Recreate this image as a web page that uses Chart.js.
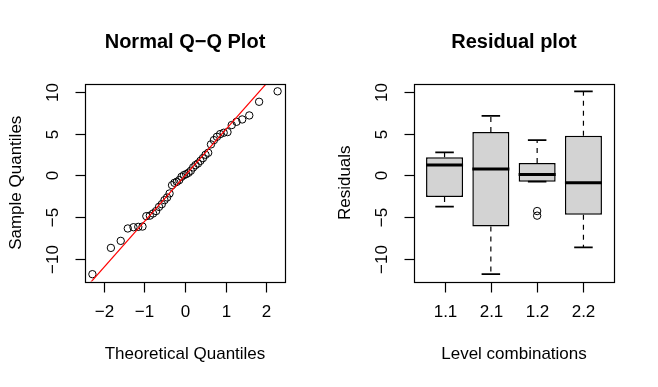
<!DOCTYPE html>
<html>
<head>
<meta charset="utf-8">
<script src="https://cdn.jsdelivr.net/npm/chart.js@4/dist/chart.umd.min.js"></script>
<style>
  body { margin: 0; background: #ffffff; }
  #wrap { display: flex; width: 658px; height: 387px; }
  canvas { display: block; }
</style>
</head>
<body>
<div id="wrap">
  <canvas id="qq" width="329" height="387"></canvas>
  <canvas id="resid" width="329" height="387"></canvas>
</div>
<script>
// Normal Q-Q plot: theoretical quantiles vs sorted residuals
const theoretical = [-2.279, -1.824, -1.582, -1.408, -1.268, -1.150, -1.046, -0.952, -0.866, -0.786, -0.711,
    -0.639, -0.571, -0.505, -0.441, -0.380, -0.319, -0.259, -0.201, -0.143, -0.086, -0.028,
    0.028, 0.086, 0.143, 0.201, 0.259, 0.319, 0.380, 0.441, 0.505, 0.571, 0.639,
    0.711, 0.786, 0.866, 0.952, 1.046, 1.150, 1.268, 1.408, 1.582, 1.824, 2.279];
const sample = [-11.79, -8.65, -7.81, -6.33, -6.18, -6.14, -6.10, -4.86, -4.80, -4.54, -4.25,
    -3.75, -3.43, -2.95, -2.63, -2.15, -1.16, -0.88, -0.76, -0.56, -0.16, 0.04,
    0.16, 0.32, 0.56, 0.96, 1.24, 1.43, 1.75, 2.07, 2.47, 2.71, 3.71,
    4.22, 4.62, 4.94, 5.10, 5.18, 6.02, 6.41, 6.69, 7.17, 8.80, 10.05];
// qqline end points (clipped by the plot box)
const qqLineX = [-2.6, 2.6];
const qqLineY = [-14.29, 14.25];

// Residual boxplot per level combination
const groups = ["1.1", "2.1", "1.2", "2.2"];
const whiskerLow = [-3.71, -11.79, -0.74, -8.60];
const q1 = [-2.56, -6.10, -0.74, -4.70];
const median = [1.25, 0.77, 0.13, -0.86];
const q3 = [2.17, 5.18, 1.48, 4.74];
const whiskerHigh = [2.76, 7.12, 4.23, 10.05];
const outlierGroup = [3, 3];
const outlierValue = [-4.25, -4.80];

// tick labels
const qqXTicks = [-2, -1, 0, 1, 2];
const yTicks = [-10, -5, 0, 5, 10];

const FONT = '"Liberation Sans", Arial, sans-serif';
const minus = v => (v < 0 ? "\u2212" + Math.abs(v) : String(v));

// R-style ylim / xlim: data range stretched by 4% on each side
function rRange(vals) {
    const lo = Math.min(...vals), hi = Math.max(...vals);
    const pad = (hi - lo) * 0.04;
    return [lo - pad, hi + pad];
}
const yLim = rRange(sample);
const qqXLim = rRange(theoretical);

// draws box, ticks, tick labels and titles the way base R does
function rAxes(cfg) {
    return {
        id: "rAxes",
        afterDraw(chart) {
            const { ctx, chartArea: a, scales: { x, y } } = chart;
            ctx.save();
            ctx.strokeStyle = "#000";
            ctx.fillStyle = "#000";
            ctx.lineWidth = 1.2;
            ctx.strokeRect(Math.round(a.left) + 0.5, Math.round(a.top) + 0.5,
                Math.round(a.right - a.left), Math.round(a.bottom - a.top));

            ctx.font = "17px " + FONT;
            ctx.textAlign = "center";
            ctx.textBaseline = "middle";
            const bottom = Math.round(a.bottom) + 0.5;
            cfg.xTicks.forEach((v, i) => {
                const px = Math.round(x.getPixelForValue(v)) + 0.5;
                ctx.beginPath();
                ctx.moveTo(px, bottom);
                ctx.lineTo(px, bottom + 10);
                ctx.stroke();
                ctx.fillText(cfg.xLabels[i], px, a.bottom + 31);
            });
            const left = Math.round(a.left) + 0.5;
            cfg.yTicks.forEach(v => {
                const py = Math.round(y.getPixelForValue(v)) + 0.5;
                ctx.beginPath();
                ctx.moveTo(left, py);
                ctx.lineTo(left - 10, py);
                ctx.stroke();
                ctx.save();
                ctx.translate(a.left - 32, py);
                ctx.rotate(-Math.PI / 2);
                ctx.fillText(minus(v), 0, 0);
                ctx.restore();
            });

            const cx = (a.left + a.right) / 2;
            ctx.fillText(cfg.xTitle, cx, a.bottom + 73);
            ctx.save();
            ctx.translate(a.left - 69, (a.top + a.bottom) / 2);
            ctx.rotate(-Math.PI / 2);
            ctx.fillText(cfg.yTitle, 0, 0);
            ctx.restore();

            ctx.font = "bold 20px " + FONT;
            ctx.fillText(cfg.title, cx, 42);
            ctx.restore();
        }
    };
}

const padding = { left: 85, right: 44, top: 84, bottom: 105.5 };

// left panel
new Chart(document.getElementById("qq"), {
    type: "scatter",
    data: {
        datasets: [{
            type: "line",
            data: qqLineX.map((v, i) => ({ x: v, y: qqLineY[i] })),
            borderColor: "#ff0000",
            borderWidth: 1.2,
            pointRadius: 0,
            order: 0
        }, {
            data: theoretical.map((v, i) => ({ x: v, y: sample[i] })),
            pointRadius: 3.7,
            pointBorderWidth: 1,
            pointBorderColor: "#000000",
            pointBackgroundColor: "rgba(0,0,0,0)",
            order: 1
        }]
    },
    options: {
        responsive: false,
        animation: false,
        layout: { padding },
        scales: {
            x: { display: false, min: qqXLim[0], max: qqXLim[1] },
            y: { display: false, min: yLim[0], max: yLim[1] }
        },
        plugins: { legend: { display: false }, tooltip: { enabled: false } }
    },
    plugins: [rAxes({
        xTicks: qqXTicks, xLabels: qqXTicks.map(minus), yTicks,
        title: "Normal Q\u2212Q Plot", xTitle: "Theoretical Quantiles", yTitle: "Sample Quantiles"
    })]
});

// segments for medians, whiskers and staples (null breaks the line)
const medianPts = [], whiskerPts = [], staplePts = [];
groups.forEach((g, i) => {
    const x = i + 1;
    medianPts.push({ x: x - 0.4, y: median[i] }, { x: x + 0.4, y: median[i] }, { x: x, y: null });
    whiskerPts.push({ x: x, y: q3[i] }, { x: x, y: whiskerHigh[i] }, { x: x, y: null });
    whiskerPts.push({ x: x, y: q1[i] }, { x: x, y: whiskerLow[i] }, { x: x, y: null });
    staplePts.push({ x: x - 0.2, y: whiskerHigh[i] }, { x: x + 0.2, y: whiskerHigh[i] }, { x: x, y: null });
    staplePts.push({ x: x - 0.2, y: whiskerLow[i] }, { x: x + 0.2, y: whiskerLow[i] }, { x: x, y: null });
});

// right panel
new Chart(document.getElementById("resid"), {
    type: "bar",
    data: {
        datasets: [{
            data: groups.map((g, i) => ({ x: i + 1, y: [q1[i], q3[i]] })),
            backgroundColor: "#d3d3d3",
            borderColor: "#000000",
            borderWidth: 1.5,
            borderSkipped: false,
            barPercentage: 0.8,
            categoryPercentage: 1,
            order: 2
        }, {
            type: "line",
            data: medianPts,
            borderColor: "#000000",
            borderWidth: 3,
            borderCapStyle: "butt",
            pointRadius: 0,
            order: 0
        }, {
            type: "line",
            data: whiskerPts,
            borderColor: "#000000",
            borderWidth: 1.2,
            borderDash: [5, 5],
            pointRadius: 0,
            order: 1
        }, {
            type: "line",
            data: staplePts,
            borderColor: "#000000",
            borderWidth: 1.8,
            pointRadius: 0,
            order: 1
        }, {
            type: "scatter",
            data: outlierGroup.map((g, i) => ({ x: g, y: outlierValue[i] })),
            pointRadius: 3.7,
            pointBorderWidth: 1,
            pointBorderColor: "#000000",
            pointBackgroundColor: "rgba(0,0,0,0)",
            order: 1
        }]
    },
    options: {
        responsive: false,
        animation: false,
        layout: { padding },
        scales: {
            x: { type: "linear", offset: false, display: false, min: 0.34, max: 4.66 },
            y: { display: false, min: yLim[0], max: yLim[1] }
        },
        plugins: { legend: { display: false }, tooltip: { enabled: false } }
    },
    plugins: [rAxes({
        xTicks: [1, 2, 3, 4], xLabels: groups, yTicks,
        title: "Residual plot", xTitle: "Level combinations", yTitle: "Residuals"
    })]
});
</script>
</body>
</html>
